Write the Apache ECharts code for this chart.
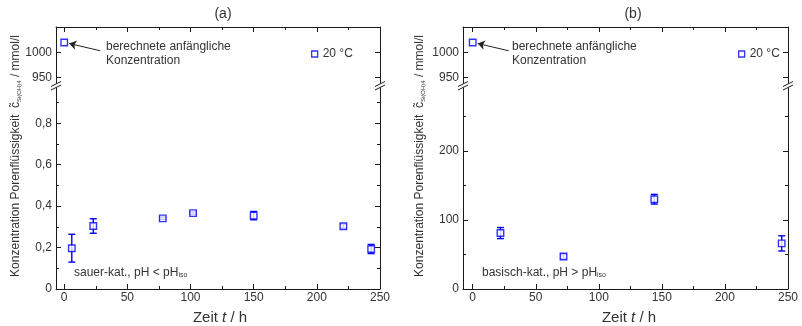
<!DOCTYPE html>
<html><head><meta charset="utf-8">
<script src="https://cdn.jsdelivr.net/npm/echarts@6/dist/echarts.min.js"></script>
<style>html,body{margin:0;padding:0;background:#fff}#c{width:802px;height:326px}</style>
</head><body><div id="c"></div>
<script>
// ---- data ----
const timeA = [6, 23, 78, 102, 150, 221, 243];
const concA = [0.197, 0.304, 0.341, 0.366, 0.354, 0.303, 0.193];
const errA  = [0.067, 0.035, 0.006, 0.006, 0.02, 0.01, 0.022];
const timeB = [22, 72, 144, 245];
const concB = [81, 47, 130, 66];
const errB  = [8, 3, 7, 11];
const initTime = [0];
const initConc = [1020];
// tick values
const xMajor = [0, 50, 100, 150, 200, 250];
const xMinor = [25, 75, 125, 175, 225];
const yTopTicks = [950, 1000];
const yA_major = [0, 0.2, 0.4, 0.6, 0.8];
const yA_minor = [0.1, 0.3, 0.5, 0.7, 0.9];
const yB_major = [0, 100, 200];
const yB_minor = [50, 150, 250];
// annotation arrow (data coordinates of the upper panel)
const arrowFrom = [28.5, 1003.5];
const arrowTo = [4, 1018];

const AX = '#1a1a1a', TXT = '#333', BLUE = '#0000ff';
const FONT = '"Liberation Sans", Arial, sans-serif';

function xAx(g, min, pos, vals, len, lab, line) {
  return {type:'value', gridIndex:g, min:min, max:250, position:pos,
    axisLine:{show:line, onZero:false, lineStyle:{color:AX, width:1}},
    axisTick:{show:true, inside:true, length:len, customValues:vals, lineStyle:{color:AX, width:1}},
    axisLabel:{show:lab, customValues:vals, margin:3, color:TXT, fontSize:12, fontFamily:FONT},
    splitLine:{show:false}};
}
function yAx(g, min, max, pos, vals, len, lab, line) {
  return {type:'value', gridIndex:g, min:min, max:max, position:pos,
    axisLine:{show:line, onZero:false, lineStyle:{color:AX, width:1}},
    axisTick:{show:true, inside:true, length:len, customValues:vals, lineStyle:{color:AX, width:1}},
    axisLabel:{show:lab, customValues:vals, margin:4, color:TXT, fontSize:12, fontFamily:FONT,
      formatter: v => v === 0 ? '0' : String(v).replace('.', ',')},
    splitLine:{show:false}};
}
const minA = -6.5, minB = -7.7;
const topMin = 939, topMax = 1051;

const xAxis = [
  xAx(0, minA, 'top', xMajor, 5, false, true),
  xAx(0, minA, 'top', xMinor, 3, false, false),
  xAx(1, minA, 'bottom', xMajor, 5, true, true),
  xAx(1, minA, 'bottom', xMinor, 3, false, false),
  xAx(2, minB, 'top', xMajor, 5, false, true),
  xAx(2, minB, 'top', xMinor, 3, false, false),
  xAx(3, minB, 'bottom', xMajor, 5, true, true),
  xAx(3, minB, 'bottom', xMinor, 3, false, false)
];
const yAxis = [
  yAx(0, topMin, topMax, 'left', yTopTicks, 5, true, true),
  yAx(0, topMin, topMax, 'right', yTopTicks, 5, false, true),
  yAx(1, 0, 0.97, 'left', yA_major, 5, true, true),
  yAx(1, 0, 0.97, 'left', yA_minor, 3, false, false),
  yAx(1, 0, 0.97, 'right', yA_major, 5, false, true),
  yAx(1, 0, 0.97, 'right', yA_minor, 3, false, false),
  yAx(2, topMin, topMax, 'left', yTopTicks, 5, true, true),
  yAx(2, topMin, topMax, 'right', yTopTicks, 5, false, true),
  yAx(3, 0, 291, 'left', yB_major, 5, true, true),
  yAx(3, 0, 291, 'left', yB_minor, 3, false, false),
  yAx(3, 0, 291, 'right', yB_major, 5, false, true),
  yAx(3, 0, 291, 'right', yB_minor, 3, false, false)
];

const markStyle = {color:'#fff', borderColor:BLUE, borderWidth:1.4};

function errSeries(xi, yi, t, c, e) {
  return {type:'custom', xAxisIndex:xi, yAxisIndex:yi, z:2, silent:true,
    encode:{x:0, y:[1,2]},
    data: t.map((v,i)=>[v, c[i]-e[i], c[i]+e[i]]),
    renderItem:(params, api)=>{
      const lo = api.coord([api.value(0), api.value(1)]);
      const hi = api.coord([api.value(0), api.value(2)]);
      const w = 3.5, st = {stroke:BLUE, lineWidth:1.4};
      return {type:'group', children:[
        {type:'line', shape:{x1:lo[0], y1:lo[1], x2:hi[0], y2:hi[1]}, style:st},
        {type:'line', shape:{x1:lo[0]-w, y1:lo[1], x2:lo[0]+w, y2:lo[1]}, style:st},
        {type:'line', shape:{x1:hi[0]-w, y1:hi[1], x2:hi[0]+w, y2:hi[1]}, style:st}
      ]};
    }};
}
function ptSeries(name, xi, yi, t, c) {
  return {type:'scatter', name:name, xAxisIndex:xi, yAxisIndex:yi, z:3,
    symbol:'rect', symbolSize:6.5, itemStyle:markStyle,
    data: t.map((v,i)=>[v, c[i]])};
}
function initSeries(xi, yi) {
  const s = ptSeries('init', xi, yi, initTime, initConc);
  s.markLine = {silent:true, symbol:['none','arrow'], symbolSize:7, animation:false,
    lineStyle:{color:'#222', width:1, type:'solid'}, label:{show:false},
    data:[[{coord:arrowFrom}, {coord:arrowTo}]]};
  return s;
}

const series = [
  errSeries(2, 2, timeA, concA, errA),
  ptSeries('20 °C', 2, 2, timeA, concA),
  initSeries(0, 0),
  errSeries(6, 8, timeB, concB, errB),
  ptSeries('20 °C', 6, 8, timeB, concB),
  initSeries(4, 6)
];

function txt(x, y, text, rich, extra) {
  return Object.assign({type:'text', x:x, y:y, silent:true,
    style:Object.assign({text:text, rich:rich, fill:TXT, font:'12px '+FONT}, extra||{})});
}
const richBase = {
  m:{fontSize:12, fontFamily:FONT, fill:TXT},
  c:{fontSize:12, fontFamily:FONT, fill:TXT},
  s:{fontSize:6, fontFamily:FONT, fill:TXT, verticalAlign:'bottom'},
  i:{fontSize:15, fontFamily:FONT, fill:TXT, fontStyle:'italic'},
  a:{fontSize:15, fontFamily:FONT, fill:TXT},
  n:{fontSize:12, fontFamily:FONT, fill:TXT},
  t:{fontSize:7, fontFamily:FONT, fill:TXT, verticalAlign:'bottom'}
};
function breakMark(x) {
  const st = {stroke:AX, lineWidth:1};
  return [
    {type:'line', silent:true, shape:{x1:x-5, y1:86.5, x2:x+5, y2:81.5}, style:st},
    {type:'line', silent:true, shape:{x1:x-5, y1:90, x2:x+5, y2:85}, style:st}
  ];
}
const yTitle = '{m|Konzentration Porenflüssigkeit  }{c|c\u0303}{s|Si(OH)4}{m| / mmol/l}';
const graphic = [
  txt(223, 14, '(a)', null, {font:'14px '+FONT, align:'center', verticalAlign:'middle'}),
  txt(633, 14, '(b)', null, {font:'14px '+FONT, align:'center', verticalAlign:'middle'}),
  Object.assign(txt(16, 156, yTitle, richBase, {align:'center', verticalAlign:'middle'}), {rotation:Math.PI/2}),
  Object.assign(txt(420, 156, yTitle, richBase, {align:'center', verticalAlign:'middle'}), {rotation:Math.PI/2}),
  txt(220, 318, '{a|Zeit }{i|t}{a| / h}', richBase, {align:'center', verticalAlign:'middle'}),
  txt(629, 318, '{a|Zeit }{i|t}{a| / h}', richBase, {align:'center', verticalAlign:'middle'}),
  txt(106, 54, 'berechnete anfängliche\nKonzentration', null, {align:'left', verticalAlign:'middle', lineHeight:14}),
  txt(512, 54, 'berechnete anfängliche\nKonzentration', null, {align:'left', verticalAlign:'middle', lineHeight:14}),
  txt(74, 273, '{n|sauer-kat., pH < pH}{t|iso}', richBase, {align:'left', verticalAlign:'middle'}),
  txt(482, 273, '{n|basisch-kat., pH > pH}{t|iso}', richBase, {align:'left', verticalAlign:'middle'})
].concat(breakMark(56), breakMark(380), breakMark(463), breakMark(788));

const legendBase = {data:['20 °C'], top:43, itemWidth:6, itemHeight:6, selectedMode:false,
  itemStyle:{borderWidth:1.3, color:'#fff', borderColor:BLUE},
  textStyle:{color:TXT, fontSize:12, fontFamily:FONT}};

const chart = echarts.init(document.getElementById('c'), null, {renderer:'canvas'});
chart.setOption({
  animation:false,
  backgroundColor:'#fff',
  grid:[
    {left:56, top:27, width:324, height:56},
    {left:56, top:88, width:324, height:201},
    {left:463, top:27, width:325, height:56},
    {left:463, top:88, width:325, height:201}
  ],
  xAxis: xAxis,
  yAxis: yAxis,
  legend:[
    Object.assign({left:306}, legendBase),
    Object.assign({left:733}, legendBase)
  ],
  series: series,
  graphic: graphic
});
</script></body></html>
